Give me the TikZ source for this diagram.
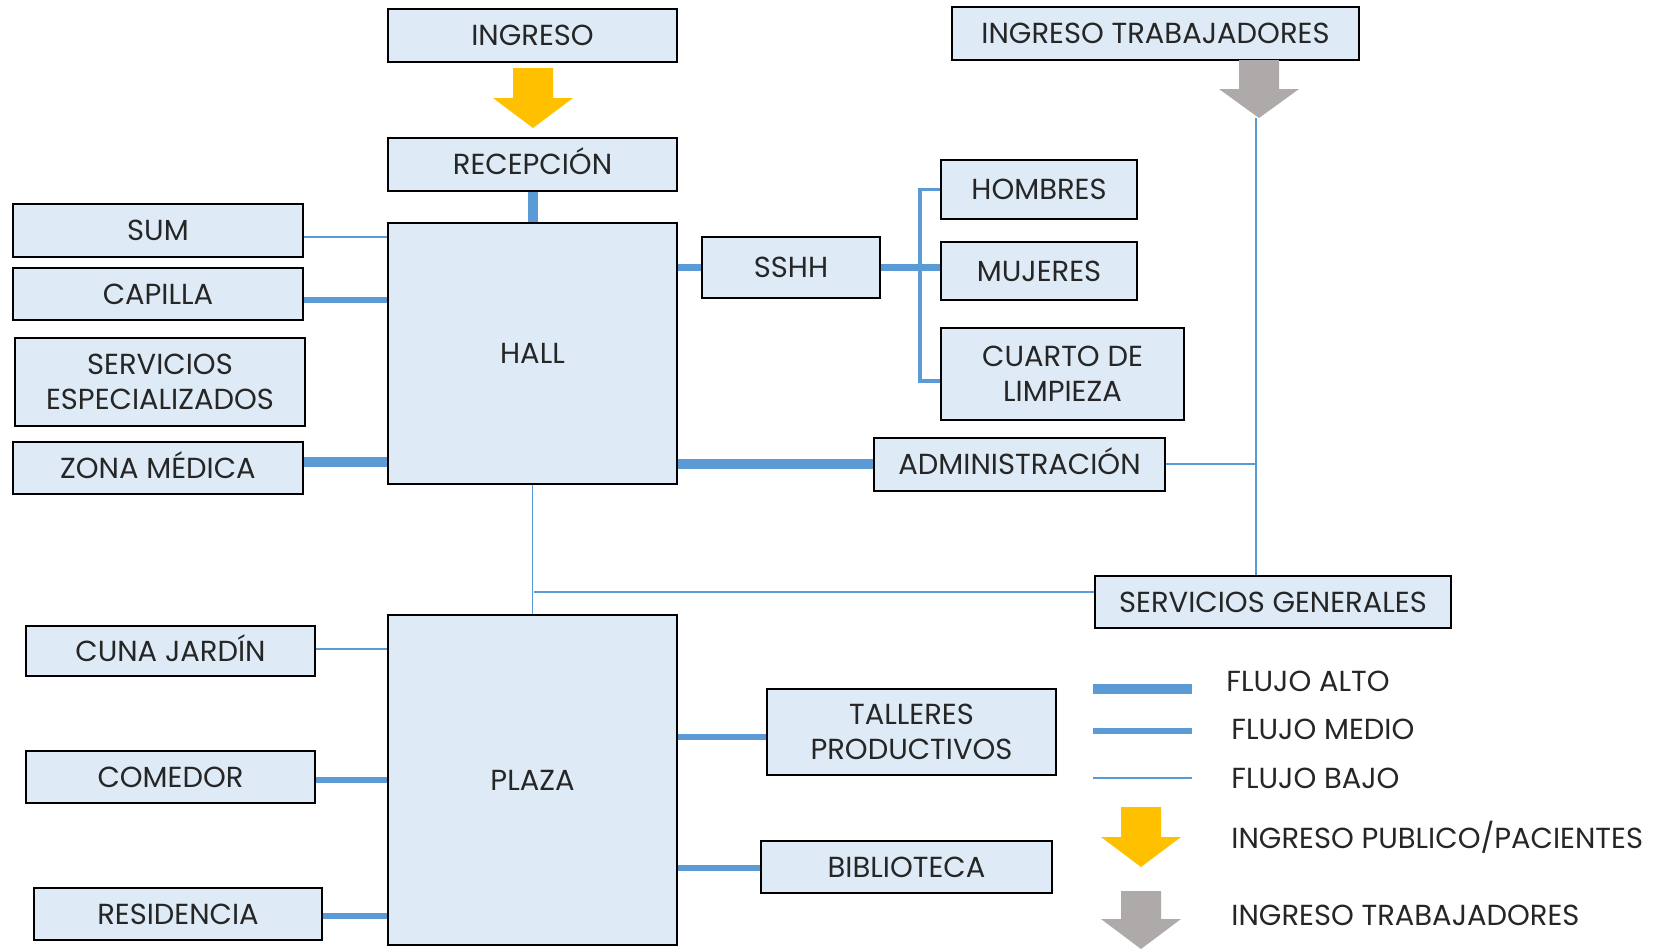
\documentclass[tikz,border=0pt]{standalone}
\usepackage{fontspec}
\setmainfont{Poppins}
\definecolor{boxfill}{HTML}{DEEBF7}
\definecolor{flow}{HTML}{5B9BD5}
\definecolor{yel}{HTML}{FFC000}
\definecolor{gry}{HTML}{AEAAAA}
\tikzset{
  box/.style={draw=black, line width=1pt, fill=boxfill, inner sep=0pt, font=\fontsize{14.5}{17.5}\selectfont, text=black!85, text height=10.2pt, text depth=0pt},
  box2/.style={box, align=center, text height=, text depth=},
  alto/.style={draw=flow, line width=5pt},
  medio/.style={draw=flow, line width=3.2pt},
  bus/.style={draw=flow, line width=1.8pt},
  bajo/.style={draw=flow, line width=0.9pt},
  legtext/.style={anchor=west, inner sep=0pt, font=\fontsize{14.5}{17.5}\selectfont, text=black!85, text height=10.2pt, text depth=0pt},
}
\newcommand\bx[6]{\node[box, minimum width={(#4-#2)*0.5pt}, minimum height={(#5-#3)*0.5pt}] (#1) at ({(#2+#4)/2},{(#3+#5)/2}) {#6};}
\newcommand\bxx[6]{\node[box2, minimum width={(#4-#2)*0.5pt}, minimum height={(#5-#3)*0.5pt}] (#1) at ({(#2+#4)/2},{(#3+#5)/2}) {#6};}
\newcommand\entryarrow[5]{%
  \fill[#1] ({#2-20},#3) -- ({#2+20},#3) -- ({#2+20},#4) -- ({#2+40},#4) -- (#2,#5) -- ({#2-40},#4) -- ({#2-20},#4) -- cycle;}
\begin{document}
\begin{tikzpicture}[x=0.5pt, y=-0.5pt]
\useasboundingbox (0,0) rectangle (1657,949);
% boxes
\bx{ingreso}{388}{9}{677}{62}{INGRESO}
\bx{recep}{388}{138}{677}{191}{RECEPCIÓN}
\bx{hall}{388}{223}{677}{484}{HALL}
\bx{sum}{13}{204}{303}{257}{SUM}
\bx{capilla}{13}{268}{303}{320}{CAPILLA}
\bxx{servesp}{15}{338}{305}{426}{SERVICIOS\\ESPECIALIZADOS}
\bx{zona}{13}{442}{303}{494}{ZONA MÉDICA}
\bx{sshh}{702}{237}{880}{298}{SSHH}
\bx{hombres}{941}{160}{1137}{219}{HOMBRES}
\bx{mujeres}{941}{242}{1137}{300}{MUJERES}
\bxx{cuarto}{941}{328}{1184}{420}{CUARTO DE\\LIMPIEZA}
\bx{admin}{874}{438}{1165}{491}{ADMINISTRACIÓN}
\bx{ingtrab}{952}{7}{1359}{60}{INGRESO TRABAJADORES}
\bx{servgen}{1095}{576}{1451}{628}{SERVICIOS GENERALES}
\bx{plaza}{388}{615}{677}{945}{PLAZA}
\bx{cuna}{26}{626}{315}{676}{CUNA JARDÍN}
\bx{comedor}{26}{751}{315}{803}{COMEDOR}
\bx{resid}{34}{888}{322}{940}{RESIDENCIA}
\bxx{talleres}{767}{689}{1056}{775}{TALLERES\\PRODUCTIVOS}
\bx{biblio}{761}{841}{1052}{893}{BIBLIOTECA}
% entrance arrows
\entryarrow{yel}{533}{68}{98}{128}
\entryarrow{gry}{1259}{60}{89}{118}
\coordinate (gtip) at (1256,118);
% connectors
\draw[alto] (recep.south) -- (hall.north);
\draw[bajo] (sum.east |- 0,237) -- (hall.west |- 0,237);
\draw[medio] (capilla.east |- 0,300) -- (hall.west |- 0,300);
\draw[alto] (zona.east |- 0,462) -- (hall.west |- 0,462);
\draw[medio] (hall.east |- sshh.east) -- (sshh.west);
\draw[medio] (sshh.east) -- (sshh.east -| mujeres.west);
\draw[bus] (hombres.west) -- (hombres.west -| 920,0) -- (920,381) -- (cuarto.west |- 0,381);
\draw[alto] (hall.east |- 0,464) -- (admin.west |- 0,464);
\draw[bajo] (admin.east |- 0,464) -- (1256,464);
\draw[bajo] (gtip) -- (servgen.north -| gtip);
\draw[bajo] (hall.south) -- (plaza.north);
\draw[bajo] (534,592) -- (servgen.west |- 0,592);
\draw[bajo] (cuna.east |- 0,649) -- (plaza.west |- 0,649);
\draw[medio] (comedor.east |- 0,780) -- (plaza.west |- 0,780);
\draw[medio] (resid.east |- 0,916) -- (plaza.west |- 0,916);
\draw[medio] (plaza.east |- 0,737) -- (talleres.west |- 0,737);
\draw[medio] (plaza.east |- 0,868) -- (biblio.west |- 0,868);
% legend
\coordinate (la1) at (1093,689); \coordinate (la2) at (1192,689);
\coordinate (lm1) at (1093,731); \coordinate (lm2) at (1192,731);
\coordinate (lb1) at (1093,778); \coordinate (lb2) at (1192,778);
\draw[alto] (la1) -- (la2);
\draw[medio, line width=3pt] (lm1) -- (lm2);
\draw[bajo] (lb1) -- (lb2);
\node[legtext] (t1) at (1226,681) {FLUJO ALTO};
\node[legtext] (t2) at (1231,729) {FLUJO MEDIO};
\node[legtext] (t3) at (1231,778) {FLUJO BAJO};
\node[legtext] (t4) at (1231,838) {INGRESO PUBLICO/PACIENTES};
\node[legtext] (t5) at (1231,915) {INGRESO TRABAJADORES};
\entryarrow{yel}{1141}{807}{837}{867}
\entryarrow{gry}{1141}{891}{919}{949}
\end{tikzpicture}
\end{document}
